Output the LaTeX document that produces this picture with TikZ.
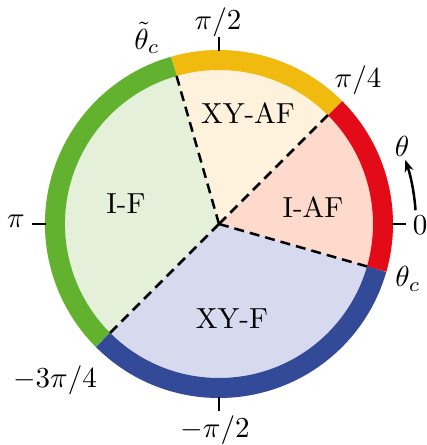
\documentclass[tikz,border=0pt]{standalone}
\usetikzlibrary{arrows.meta}
\definecolor{ringred}{RGB}{227,11,23}
\definecolor{ringyellow}{RGB}{240,187,14}
\definecolor{ringgreen}{RGB}{99,178,47}
\definecolor{ringblue}{RGB}{51,74,153}
\definecolor{fillred}{RGB}{253,218,203}
\definecolor{fillyellow}{RGB}{254,242,220}
\definecolor{fillgreen}{RGB}{229,240,218}
\definecolor{fillblue}{RGB}{215,217,238}
\begin{document}
\begin{tikzpicture}[x=1pt,y=1pt,
  lbl/.style={inner sep=0pt,scale=2.9},
  ringseg/.style={line width=20pt},
  divider/.style={line width=2.5pt,dash pattern=on 10pt off 6pt},
  tickmark/.style={line width=2.5pt}]
\useasboundingbox (-219,-221) rectangle (208,224);
\def\R{174}
\def\Rm{164}
% sectors
\fill[fillred] (0,0) -- (-16:\R) arc[start angle=-16,end angle=45,radius=\R] -- cycle;
\fill[fillyellow] (0,0) -- (45:\R) arc[start angle=45,end angle=106,radius=\R] -- cycle;
\fill[fillgreen] (0,0) -- (106:\R) arc[start angle=106,end angle=225,radius=\R] -- cycle;
\fill[fillblue] (0,0) -- (225:\R) arc[start angle=225,end angle=344,radius=\R] -- cycle;
% ring
\draw[ringseg,ringred] (-16:\Rm) arc[start angle=-16,end angle=45,radius=\Rm];
\draw[ringseg,ringyellow] (45:\Rm) arc[start angle=45,end angle=106,radius=\Rm];
\draw[ringseg,ringgreen] (106:\Rm) arc[start angle=106,end angle=225,radius=\Rm];
\draw[ringseg,ringblue] (225:\Rm) arc[start angle=225,end angle=344,radius=\Rm];
% dividers
\coordinate (o) at (0,0);
\coordinate (d1) at (-16:154);
\coordinate (d2) at (45:154);
\coordinate (d3) at (106:154);
\coordinate (d4) at (225:154);
\draw[divider] (o) -- (d1);
\draw[divider] (o) -- (d2);
\draw[divider] (o) -- (d3);
\draw[divider] (o) -- (d4);
% ticks
\foreach \a/\n in {0/t0,90/t1,180/t2,270/t3}{
  \coordinate (\n a) at (\a:173);
  \coordinate (\n b) at (\a:187);
  \draw[tickmark] (\n a) -- (\n b);
}
% arrow
\coordinate (arrs) at (4:197);
\draw[line width=2.5pt,-{Stealth[length=12pt,width=9pt]}] (arrs) arc[start angle=4,end angle=19,radius=197];
% labels
\node[lbl] (lpi2) at (-1,202) {$\pi/2$};
\node[lbl] (lpi4) at (139,144) {$\pi/4$};
\node[lbl] (ltc) at (-72,186) {$\tilde{\theta}_c$};
\node[lbl] (lzero) at (201,-1) {$0$};
\node[lbl] (lpi) at (-203,3) {$\pi$};
\node[lbl] (lthc) at (189,-55) {$\theta_c$};
\node[lbl] (lm34) at (-164,-156) {$-3\pi/4$};
\node[lbl] (lm2) at (-4,-206) {$-\pi/2$};
\node[lbl] (lth) at (183,78) {$\theta$};
\node[lbl] (xyaf) at (29,111) {XY-AF};
\node[lbl] (if) at (-93,20) {I-F};
\node[lbl] (iaf) at (94,17) {I-AF};
\node[lbl] (xyf) at (13,-95) {XY-F};
\end{tikzpicture}
\end{document}
